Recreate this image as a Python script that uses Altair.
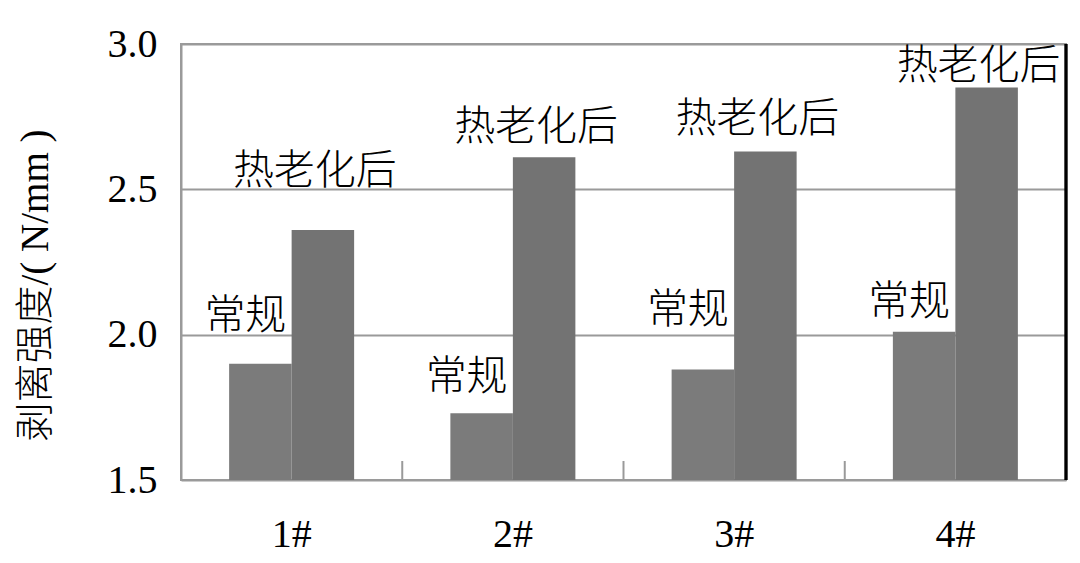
import altair as alt
import pandas as pd

categories = ["1#", "2#", "3#", "4#"]
series_names = ["常规", "热老化后"]
conventional = [1.90, 1.73, 1.88, 2.01]
aged = [2.36, 2.61, 2.63, 2.85]
conv_label_y = [2.06, 1.85, 2.08, 2.11]
aged_label_y = [2.56, 2.71, 2.74, 2.92]
y_ticks = [1.5, 2.0, 2.5, 3.0]
y_title = "剥离强度/( N/mm )"
bar_colors = ["#7b7b7b", "#737373"]

rows = []
for c, v, ly in zip(categories, conventional, conv_label_y):
    rows.append({"cat": c, "series": series_names[0], "value": v, "label_y": ly})
for c, v, ly in zip(categories, aged, aged_label_y):
    rows.append({"cat": c, "series": series_names[1], "value": v, "label_y": ly})
df = pd.DataFrame(rows)
cat_df = pd.DataFrame({"cat": categories})

FONT = "Liberation Serif, Noto Sans CJK SC"
GRID = "#9a9a9a"

x_enc = alt.X(
    "cat:N",
    sort=categories,
    scale=alt.Scale(paddingInner=0, paddingOuter=0),
    axis=alt.Axis(
        title=None, labelAngle=0, labelFontSize=40, labelFont=FONT,
        labelColor="black", labelPadding=54, labelBaseline="middle",
        ticks=False, domain=False, grid=False,
    ),
)
xo_enc = alt.XOffset(
    "series:N", sort=series_names,
    scale=alt.Scale(paddingInner=0, paddingOuter=0.77),
)
y_scale = alt.Scale(domain=[1.5, 3.0], zero=False, nice=False)

bars = alt.Chart(df).mark_bar().encode(
    x=x_enc,
    xOffset=xo_enc,
    y=alt.Y(
        "value:Q", scale=y_scale,
        axis=alt.Axis(
            values=y_ticks, format=".1f", labelFontSize=40, labelFont=FONT,
            labelColor="black", labelPadding=24, ticks=False,
            domain=True, domainColor=GRID, domainWidth=2,
            grid=True, gridColor=GRID, gridWidth=2,
            title=y_title, titleFont=FONT, titleFontSize=39,
            titleFontWeight=300, titleColor="black",
            titleAngle=270, titleX=-146, titleY=241,
            titleAlign="center", titleBaseline="middle",
        ),
    ),
    y2=alt.datum(1.5),
    color=alt.Color("series:N", sort=series_names,
                    scale=alt.Scale(domain=series_names, range=bar_colors),
                    legend=None),
)

inner_ticks = alt.Chart(cat_df).mark_rule(color=GRID, strokeWidth=2).encode(
    x=alt.X("cat:N", sort=categories, bandPosition=1),
    y=alt.value(417),
    y2=alt.value(436),
)

right_border = alt.Chart(cat_df).mark_rule(color="black", strokeWidth=2.5).encode(
    x=alt.value(885), y=alt.value(0), y2=alt.value(436),
)

conv_text = alt.Chart(df).transform_filter(
    alt.datum.series == series_names[0]
).mark_text(font=FONT, fontSize=41, fontWeight=300, color="black",
            baseline="middle", dx=-15).encode(
    x=alt.X("cat:N", sort=categories),
    xOffset=alt.XOffset("series:N", sort=series_names),
    y=alt.Y("label_y:Q", scale=y_scale),
    text="series:N",
)

aged_text = alt.Chart(df).transform_filter(
    alt.datum.series == series_names[1]
).mark_text(font=FONT, fontSize=41, fontWeight=300, color="black",
            baseline="middle", dx=-8).encode(
    x=alt.X("cat:N", sort=categories),
    xOffset=alt.XOffset("series:N", sort=series_names),
    y=alt.Y("label_y:Q", scale=y_scale),
    text="series:N",
)

chart = alt.layer(bars, inner_ticks, right_border, conv_text, aged_text).properties(
    width=885, height=436,
    autosize=alt.AutoSizeParams(type="none"),
    padding={"left": 173, "top": 36, "right": 6, "bottom": 75},
    background="white",
).configure_view(stroke=GRID, strokeWidth=2)

chart.save("out.html", embed_options={"renderer": "svg", "actions": False})
